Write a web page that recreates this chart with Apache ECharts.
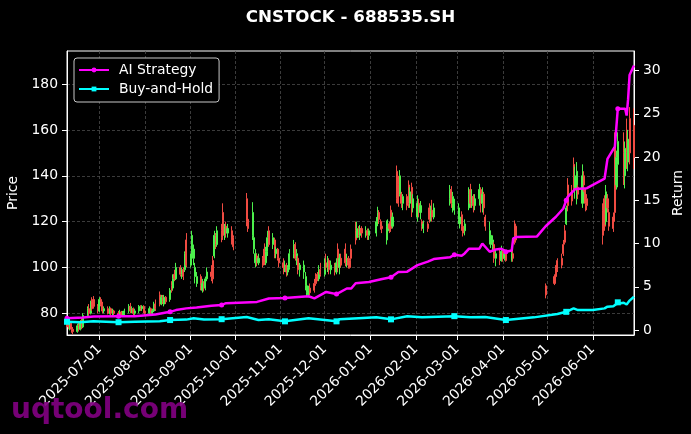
<!DOCTYPE html>
<html>
<head>
<meta charset="utf-8">
<title>CNSTOCK - 688535.SH</title>
<script src="https://cdn.jsdelivr.net/npm/echarts@6.0.0/dist/echarts.min.js"></script>
<style>
  html, body { margin: 0; padding: 0; background: #000; }
  #main { width: 691px; height: 434px; }
</style>
</head>
<body>
<div id="main"></div>
<script>
// daily candles, one list per month: [day, open, close, low, high]
var jun2025 = [
  [9, 77, 75, 74, 78], [10, 76, 74, 73, 77.5], [11, 74, 75.5, 72.5, 76.5], [12, 75.5, 73, 71.5, 76],
  [13, 73, 72, 70.8, 74], [16, 72, 74.5, 71.5, 75.5], [17, 74.5, 73, 72, 76], [18, 73, 76, 72.5, 77],
  [19, 76, 74, 73, 78], [20, 74, 79, 73.5, 80], [23, 79, 82, 78, 83], [24, 82, 80, 79, 84],
  [25, 80, 84, 79.5, 85.5], [26, 85, 82, 81, 87], [27, 86, 83, 82, 87.5], [30, 83, 81, 80, 84]
];
var jul2025 = [
  [1, 81, 86, 80.5, 87], [2, 86, 84, 83, 87], [3, 84, 81, 80, 85], [4, 81, 82, 80, 83],
  [7, 82, 80, 79.5, 83], [8, 80, 82, 79.5, 83], [9, 82, 80, 79, 82.5], [10, 80, 81, 79, 82],
  [11, 81, 80, 79, 81.5], [14, 80, 79.5, 78.5, 81], [15, 79.5, 80.5, 78.5, 81.5], [16, 80.5, 79, 78.5, 81],
  [17, 79, 80, 78.5, 81], [18, 80, 81, 79, 82], [21, 81, 83, 80, 84], [22, 83, 81, 80, 84.5],
  [23, 81, 82, 80, 83], [24, 82, 80, 79, 82.5], [25, 80, 81, 79.3, 82], [28, 81, 83, 80, 83.6],
  [29, 83, 82, 81, 83.5], [30, 82, 83, 81, 83.5], [31, 83, 81, 80, 83.5]
];
var aug2025 = [
  [1, 81, 80, 79.3, 82], [4, 80, 82, 79.5, 83], [5, 82, 80, 79.5, 82.5], [6, 80, 81, 79.5, 82],
  [7, 81, 84, 80.5, 85], [8, 84, 82, 81, 86], [11, 88, 84, 83, 89.5], [12, 84, 87, 83.5, 88],
  [13, 87, 85, 84, 88], [14, 84, 87, 83, 88], [15, 87, 85, 84, 87.5], [18, 86, 90, 85, 91],
  [19, 92, 90, 89, 94], [20, 91, 95, 90, 97], [21, 97, 95, 94, 99], [22, 95, 100, 94.5, 102],
  [25, 100, 97, 96, 101], [26, 97, 99, 95, 100], [27, 99, 96, 94.5, 100], [28, 99, 106, 98, 107],
  [29, 112, 101, 100, 115]
];
var sep2025 = [
  [1, 101, 104, 100, 106], [2, 104, 114, 103, 116], [3, 104, 108, 101, 110], [4, 96, 100, 93, 102],
  [5, 93, 96, 91.5, 98], [8, 96, 92, 90, 97], [9, 90, 93, 89, 95], [10, 93, 91, 89.5, 94],
  [11, 91, 95, 90, 96], [12, 95, 98, 94, 100], [15, 98, 96, 94, 101], [16, 103, 95, 93, 105],
  [17, 105, 114, 104, 116], [18, 114, 110, 108, 115], [19, 110, 116, 109, 118], [22, 116, 113, 111, 119],
  [23, 124, 114, 112, 128], [24, 114, 118, 112, 119], [25, 118, 115, 113, 120], [26, 115, 117, 113, 119],
  [29, 116, 112, 110, 118], [30, 113, 109, 107.5, 114]
];
var oct2025 = [
  [9, 130, 120, 118, 132.5], [10, 121, 117, 115.5, 123], [13, 114, 124, 112, 128.5], [14, 108, 113, 106, 116],
  [15, 102, 106, 100, 108], [16, 105, 102, 100.5, 106], [17, 102, 104, 101, 106], [20, 104, 101, 100, 105],
  [21, 108, 102, 101, 110.5], [22, 102, 107, 101, 109], [23, 107, 113, 105, 116], [24, 116, 110, 109, 118],
  [27, 110, 113, 108, 115], [28, 112, 106, 104, 113], [29, 106, 108, 104, 109], [30, 108, 104, 103, 108.5],
  [31, 104, 102, 100, 105]
];
var nov2025 = [
  [3, 102, 100, 97, 104], [4, 100, 101, 98, 103], [5, 101, 98, 96, 102], [6, 98, 100, 96.5, 101],
  [7, 100, 106, 99, 108], [10, 106, 110, 104, 112], [11, 110, 104, 103, 111], [12, 104, 106, 101, 108],
  [13, 104, 99, 97, 105], [14, 99, 101, 96, 102], [17, 98, 101, 95, 103], [18, 92, 96, 90, 98],
  [19, 89, 92, 87.5, 94], [20, 88, 90, 87, 92], [21, 91, 89, 88, 93], [24, 93, 90, 89, 95],
  [25, 96, 93, 92, 97.5], [26, 97, 95, 94, 98], [27, 95, 99, 94, 101], [28, 99, 97, 96, 102]
];
var dec2025 = [
  [1, 97, 102, 96, 104], [2, 102, 100, 99, 106], [3, 100, 103, 98, 105], [4, 103, 99, 97, 104],
  [5, 99, 101, 97, 103], [8, 101, 98, 96.5, 102], [9, 98, 102, 97, 104], [10, 108, 100, 98, 110.5],
  [11, 100, 104, 97, 106], [12, 104, 101, 100, 106], [15, 108, 102, 100.5, 110.5], [16, 102, 104, 100, 106],
  [17, 104, 101, 99.5, 105], [18, 103, 100, 99.5, 104], [19, 108, 104, 103, 110], [22, 116, 112, 110, 120],
  [23, 113, 117, 113, 120], [24, 117, 114, 113, 118], [25, 114, 117, 112, 118.5], [26, 117, 115, 113, 118],
  [29, 115, 116, 113, 118], [30, 116, 114, 112, 117], [31, 114, 116, 112, 117]
];
var jan2026 = [
  [5, 115, 120, 113.5, 122], [6, 120, 124, 118, 126.5], [7, 124, 121, 119, 125], [8, 120, 118, 116.5, 121],
  [9, 118, 117, 115, 120], [12, 112, 118, 110, 120.5], [13, 116, 119, 114, 121], [14, 119, 117, 115, 120],
  [15, 125, 117, 115.5, 127], [16, 118, 122, 117, 124], [19, 142, 130, 128, 144.5], [20, 136, 128, 126.5, 140],
  [21, 132, 140, 131, 142.5], [22, 132, 128, 126, 133], [23, 128, 131, 125, 132], [26, 131, 127, 125, 132],
  [27, 136, 128, 126, 138], [28, 128, 133, 126, 135], [29, 135, 126, 122, 137], [30, 126, 130, 124, 132]
];
var feb2026 = [
  [2, 122, 128, 120, 131.5], [3, 128, 125, 122, 130], [4, 124, 127, 121, 129], [5, 120, 118, 116, 121],
  [6, 117, 119, 115, 120.5], [9, 119, 117, 115.5, 120], [10, 126, 121, 119.5, 128], [11, 122, 125, 120, 127],
  [12, 125, 122, 120, 129.5], [13, 122, 126, 121, 128], [24, 130, 134, 127, 136], [25, 134, 128, 126, 135.5],
  [26, 128, 131, 124, 133], [27, 125, 129, 123, 130]
];
var mar2026 = [
  [2, 121, 126, 119, 128], [3, 119, 122, 117, 124], [4, 123, 118, 116, 124.5], [5, 118, 115, 113.5, 120],
  [6, 116, 119, 114, 121], [9, 126, 132, 125, 135], [10, 134, 128, 126, 136.5], [11, 128, 131, 126, 134],
  [12, 131, 127, 124, 132], [13, 127, 130, 125, 132], [16, 130, 134, 127, 136.5], [17, 134, 128, 124, 135],
  [18, 128, 132, 124, 135], [19, 132, 126, 123, 133], [20, 122, 118, 116, 123], [23, 112, 116, 110, 120],
  [24, 110, 114, 108.5, 116], [25, 109, 112, 107, 114], [26, 110, 104, 102, 111], [27, 104, 106, 100.5, 108],
  [30, 106, 103, 101, 108], [31, 103, 107, 102.5, 109.5]
];
var apr2026 = [
  [1, 107, 104, 102.5, 108], [2, 104, 106, 103, 108], [3, 106, 103, 102.5, 107], [7, 103, 106, 102.5, 108],
  [8, 106, 104, 102.5, 108.5], [9, 119, 111, 110, 120.5], [10, 118, 112, 111, 119], [30, 92, 88, 86.5, 93]
];
var may2026 = [
  [6, 96, 93, 92.3, 97], [7, 100, 96, 95, 101], [8, 103, 99, 98, 104], [11, 104, 101, 99.6, 106],
  [12, 110, 106, 105, 112], [13, 116, 111, 110, 118.5], [14, 119, 126, 118.5, 127], [15, 136, 127, 124.5, 139],
  [18, 133, 129, 127, 136], [19, 145, 135, 134, 148], [20, 134, 140, 130, 144], [21, 130, 142, 127.5, 146],
  [22, 135, 132, 130, 136], [25, 128, 140, 126, 145], [26, 140, 136, 133, 142], [27, 134, 128, 124.5, 134.5],
  [28, 130, 127, 125, 132]
];
var jun2026 = [
  [8, 125, 114, 110, 128], [9, 130, 118, 116, 131.5], [10, 120, 133, 118.6, 136], [11, 130, 126, 124, 132],
  [12, 124, 118, 116, 125.8], [15, 122, 117, 115.5, 124], [16, 155, 124, 120, 159], [17, 136, 148, 134, 151],
  [18, 145, 155, 135, 159], [22, 150, 140, 136, 159], [23, 140, 152, 134.5, 155], [24, 160, 150, 143, 165],
  [25, 146, 156, 142, 160], [26, 165, 150, 145, 170], [29, 162, 148, 143, 169.5]
];

// strategy curves: [date, return]
var aiStrategy = [
  ['2025-06-09', 1.35], ['2025-06-20', 1.45], ['2025-06-27', 1.55], ['2025-07-14', 1.6], ['2025-07-25', 1.6],
  ['2025-08-08', 1.8], ['2025-08-18', 2.1], ['2025-08-22', 2.3], ['2025-08-29', 2.5], ['2025-09-05', 2.6],
  ['2025-09-15', 2.8], ['2025-09-22', 2.9], ['2025-09-25', 3.1], ['2025-10-16', 3.25], ['2025-10-24', 3.65],
  ['2025-11-04', 3.7], ['2025-11-20', 3.9], ['2025-11-24', 3.65], ['2025-12-02', 4.4], ['2025-12-09', 4.15],
  ['2025-12-16', 4.8], ['2025-12-19', 4.8], ['2025-12-22', 5.4], ['2025-12-31', 5.55], ['2026-01-09', 5.9],
  ['2026-01-15', 6.1], ['2026-01-20', 6.7], ['2026-01-26', 6.75], ['2026-02-02', 7.5], ['2026-02-09', 7.9],
  ['2026-02-13', 8.2], ['2026-02-24', 8.4], ['2026-02-27', 8.7], ['2026-03-04', 8.6], ['2026-03-06', 8.85],
  ['2026-03-09', 9.4], ['2026-03-16', 9.4], ['2026-03-18', 10.0], ['2026-03-23', 9.05], ['2026-03-27', 9.3],
  ['2026-03-31', 9.4], ['2026-04-03', 9.05], ['2026-04-07', 9.2], ['2026-04-08', 10.6], ['2026-04-10', 10.75],
  ['2026-04-24', 10.8], ['2026-04-30', 12.0], ['2026-05-07', 13.1], ['2026-05-12', 14.05], ['2026-05-14', 15.0],
  ['2026-05-15', 15.4], ['2026-05-20', 16.3], ['2026-05-28', 16.4], ['2026-06-09', 17.5], ['2026-06-11', 19.8],
  ['2026-06-16', 21.2], ['2026-06-17', 21.4], ['2026-06-18', 25.6], ['2026-06-23', 25.6], ['2026-06-24', 24.8],
  ['2026-06-25', 26.7], ['2026-06-26', 29.5], ['2026-06-29', 30.6]
];
var buyHold = [
  ['2025-06-09', 0.95], ['2025-06-18', 0.9], ['2025-06-27', 1.0], ['2025-07-14', 0.9], ['2025-07-25', 0.95],
  ['2025-08-11', 1.0], ['2025-08-18', 1.15], ['2025-08-29', 1.2], ['2025-09-03', 1.35], ['2025-09-10', 1.2],
  ['2025-09-22', 1.25], ['2025-10-09', 1.5], ['2025-10-10', 1.54], ['2025-10-17', 1.15], ['2025-10-24', 1.25],
  ['2025-11-04', 1.0], ['2025-11-20', 1.35], ['2025-12-09', 1.0], ['2025-12-11', 1.23], ['2025-12-24', 1.35],
  ['2026-01-05', 1.46], ['2026-01-15', 1.23], ['2026-01-26', 1.6], ['2026-02-05', 1.46], ['2026-02-27', 1.6],
  ['2026-03-10', 1.46], ['2026-03-20', 1.5], ['2026-04-03', 1.15], ['2026-04-22', 1.46], ['2026-05-08', 1.85],
  ['2026-05-14', 2.1], ['2026-05-19', 2.5], ['2026-05-22', 2.3], ['2026-06-01', 2.3], ['2026-06-09', 2.5],
  ['2026-06-11', 2.7], ['2026-06-12', 2.9], ['2026-06-15', 2.75], ['2026-06-17', 3.0], ['2026-06-18', 3.2],
  ['2026-06-22', 3.15], ['2026-06-24', 2.95], ['2026-06-25', 3.1], ['2026-06-26', 3.4], ['2026-06-29', 3.85]
];
// every 25th trading day carries a marker
var markerDates = ['2025-06-09', '2025-07-14', '2025-08-18', '2025-09-22', '2025-11-04', '2025-12-09',
  '2026-01-15', '2026-02-27', '2026-04-03', '2026-05-14', '2026-06-18'];

var monthTicks = ['2025-07-01', '2025-08-01', '2025-09-01', '2025-10-01', '2025-11-01', '2025-12-01',
  '2026-01-01', '2026-02-01', '2026-03-01', '2026-04-01', '2026-05-01', '2026-06-01'];
var priceTicks = [80, 100, 120, 140, 160, 180];
var returnTicks = [0, 5, 10, 15, 20, 25, 30];

function ts(s) {
  var p = s.split('-');
  return Date.UTC(+p[0], +p[1] - 1, +p[2]);
}
function pad(n) { return n < 10 ? '0' + n : '' + n; }
function fmtDate(v) {
  var d = new Date(v);
  return d.getUTCFullYear() + '-' + pad(d.getUTCMonth() + 1) + '-' + pad(d.getUTCDate());
}

var candles = [];
function addMonth(rows, ym) {
  rows.forEach(function (r) {
    candles.push([ts(ym + '-' + pad(r[0])), r[1], r[2], r[3], r[4]]);
  });
}
addMonth(jun2025, '2025-06'); addMonth(jul2025, '2025-07'); addMonth(aug2025, '2025-08');
addMonth(sep2025, '2025-09'); addMonth(oct2025, '2025-10'); addMonth(nov2025, '2025-11');
addMonth(dec2025, '2025-12'); addMonth(jan2026, '2026-01'); addMonth(feb2026, '2026-02');
addMonth(mar2026, '2026-03'); addMonth(apr2026, '2026-04'); addMonth(may2026, '2026-05');
addMonth(jun2026, '2026-06');

var markerSet = {};
markerDates.forEach(function (d) { markerSet[ts(d)] = true; });
function toPoints(list) {
  return list.map(function (p) { return [ts(p[0]), p[1]]; });
}

var FONT = 'DejaVu Sans';
var UP = '#4cf04c', DOWN = '#f04b42';
var GRID_LINE = { show: true, lineStyle: { color: '#4a4a4a', width: 0.8, type: [3, 2] } };

var chart = echarts.init(document.getElementById('main'));
var option = {
  backgroundColor: '#000',
  animation: false,
  textStyle: { fontFamily: FONT },
  grid: {
    left: 67, right: 57, top: 51, bottom: 99,
    show: true, borderColor: '#fff', borderWidth: 1, backgroundColor: 'transparent',
    outerBoundsMode: 'none'
  },
  legend: {
    left: 74, top: 58, orient: 'vertical',
    backgroundColor: '#000', borderColor: '#c8c8c8', borderWidth: 1, borderRadius: 3,
    padding: [5, 6, 6, 4], itemGap: 5, itemWidth: 30, itemHeight: 6,
    textStyle: { color: '#fff', fontSize: 13.9, fontFamily: FONT, padding: [0, 0, 0, 5] },
    data: ['AI Strategy', 'Buy-and-Hold']
  },
  xAxis: {
    type: 'value',
    min: ts('2025-06-09'), max: ts('2026-06-29'),
    axisLine: { show: true, onZero: false, lineStyle: { color: '#fff', width: 1 } },
    axisTick: { show: true, length: 5, customValues: monthTicks.map(ts), lineStyle: { color: '#fff' } },
    axisLabel: {
      customValues: monthTicks.map(ts), rotate: 45, margin: 12, color: '#fff',
      fontSize: 13.9, fontFamily: FONT, formatter: fmtDate
    },
    splitLine: GRID_LINE
  },
  yAxis: [{
    type: 'value', position: 'left', min: 70.5, max: 194.5,
    name: 'Price', nameLocation: 'middle', nameGap: 43, nameRotate: 90,
    nameTextStyle: { color: '#fff', fontSize: 13.9, fontFamily: FONT },
    axisLine: { show: true, lineStyle: { color: '#fff' } },
    axisTick: { show: true, length: 5, customValues: priceTicks, lineStyle: { color: '#fff' } },
    axisLabel: { customValues: priceTicks, margin: 9, color: '#fff', fontSize: 13.9, fontFamily: FONT },
    splitLine: GRID_LINE
  }, {
    type: 'value', position: 'right', min: -0.58, max: 32.27,
    name: 'Return', nameLocation: 'middle', nameGap: 34, nameRotate: 90,
    nameTextStyle: { color: '#fff', fontSize: 13.9, fontFamily: FONT },
    axisLine: { show: true, lineStyle: { color: '#fff' } },
    axisTick: { show: true, length: 5, customValues: returnTicks, lineStyle: { color: '#fff' } },
    axisLabel: { customValues: returnTicks, margin: 9, color: '#fff', fontSize: 13.9, fontFamily: FONT },
    splitLine: { show: false }
  }],
  series: [{
    type: 'candlestick',
    name: 'Price',
    yAxisIndex: 0,
    data: candles,
    barWidth: 1.6,
    itemStyle: { color: UP, color0: DOWN, borderColor: UP, borderColor0: DOWN, borderWidth: 1 },
    z: 2
  }, {
    type: 'line',
    name: 'AI Strategy',
    yAxisIndex: 1,
    data: toPoints(aiStrategy),
    symbol: 'circle',
    symbolSize: function (v) { return markerSet[v[0]] ? 5 : 0; },
    showSymbol: true, showAllSymbol: true,
    lineStyle: { color: '#ff00ff', width: 2.5 },
    itemStyle: { color: '#ff00ff' },
    z: 3
  }, {
    type: 'line',
    name: 'Buy-and-Hold',
    yAxisIndex: 1,
    data: toPoints(buyHold),
    symbol: 'rect',
    symbolSize: function (v) { return markerSet[v[0]] ? 6 : 0; },
    showSymbol: true, showAllSymbol: true,
    lineStyle: { color: '#00ffff', width: 2.5 },
    itemStyle: { color: '#00ffff' },
    z: 4
  }],
  graphic: [{
    type: 'text', x: 350.5, y: 18, z: 10,
    style: {
      text: 'CNSTOCK - 688535.SH', fill: '#fff', font: 'bold 16.7px "DejaVu Sans"',
      textAlign: 'center', textVerticalAlign: 'middle'
    }
  }, {
    type: 'text', x: 11, y: 411, z: 100,
    style: {
      text: 'uqtool.com', fill: '#800080', opacity: 0.92, font: 'bold 28px "DejaVu Sans"',
      textAlign: 'left', textVerticalAlign: 'middle'
    }
  }]
};
chart.setOption(option);
</script>
</body>
</html>
